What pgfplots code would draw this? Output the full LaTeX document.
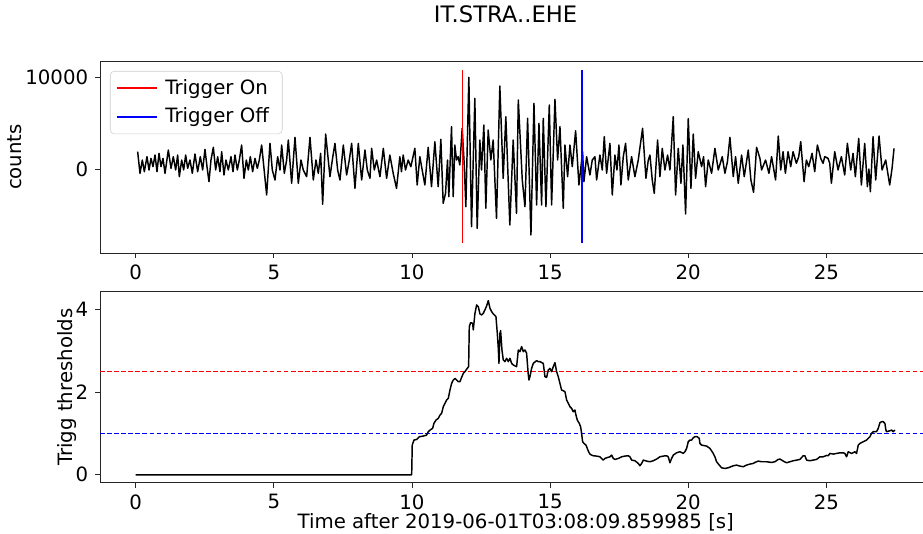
\documentclass[border=0pt]{standalone}
\usepackage{pgfplots}
\pgfplotsset{compat=1.18}
\usepackage{fontspec}
\setmainfont{DejaVu Sans}

\definecolor{trigred}{rgb}{1,0,0}
\definecolor{trigblue}{rgb}{0,0,1}

\pgfplotsset{
  seis/.style={
    scale only axis, width=623.7pt,
    xmin=-1.292, xmax=28.81,
    xtick={0,5,...,25},
    tick align=outside, tick pos=left,
    major tick length=3.75pt,
    axis line style={line width=0.6pt, black!85},
    every tick/.style={black!85, line width=0.6pt},
    /pgf/number format/assume math mode=true,
    /pgf/number format/1000 sep={},
    scaled y ticks=false,
    ylabel style={yshift=-7.5pt},
    clip=true,
  },
}

\begin{document}
\fontsize{14.8pt}{17.5pt}\selectfont
\begin{tikzpicture}
\useasboundingbox (0,0) rectangle (692.25pt,400.5pt);

\node[anchor=base west, font=\fontsize{17pt}{20pt}\selectfont] at (320.25pt,383.6pt) {IT.STRA..EHE};

% waveform with trigger times
\begin{axis}[seis, at={(75pt,210.75pt)}, anchor=south west, height=144pt,
    ymin=-9160, ymax=11780, ytick={0,10000},
    ylabel={counts},
    legend cell align=left,
    legend style={at={(0.012,0.948)}, anchor=north west, draw=black!20,
        rounded corners=3pt, fill=white, fill opacity=0.8, text opacity=1,
        inner xsep=4pt, inner ysep=4pt, row sep=4pt,
        nodes={inner xsep=6pt}},
    legend image code/.code={\draw[#1] (0pt,0pt) -- (30pt,0pt);},
]
\addplot[black, line width=1.1pt, line join=round, forget plot] table {
0.071 1890
0.156 -472
0.240 981
0.313 -290
0.409 1345
0.482 -109
0.554 1163
0.626 254
0.699 1527
0.771 -290
0.844 1709
0.916 254
0.988 1163
1.061 -472
1.181 2072
1.278 72
1.362 1345
1.447 -109
1.519 1527
1.579 -836
1.664 981
1.736 -109
1.809 1527
1.881 72
1.965 981
2.050 -472
2.146 1636
2.243 -290
2.339 1345
2.424 -109
2.508 2145
2.581 254
2.653 -1381
2.725 981
2.810 2363
2.894 -109
2.967 1345
3.051 -290
3.112 1890
3.196 -654
3.268 981
3.353 -109
3.449 1345
3.522 -290
3.594 1527
3.679 -109
3.751 981
3.835 2617
3.920 -1018
4.004 981
4.077 -109
4.149 1345
4.234 -290
4.318 1163
4.402 72
4.475 981
4.559 2617
4.740 -2835
4.861 2799
4.945 -109
5.042 -1200
5.138 1345
5.223 -109
5.283 2617
5.380 -472
5.464 981
5.524 3162
5.645 -1563
5.766 3453
5.886 -1563
5.983 981
6.067 -109
6.188 -836
6.309 3453
6.429 -1200
6.526 981
6.610 -472
6.695 1709
6.767 -3853
6.876 3817
7.032 -836
7.117 981
7.213 2799
7.310 -109
7.394 -1200
7.515 2617
7.636 -654
7.732 981
7.817 2799
7.937 -2108
8.058 2799
8.179 -1200
8.299 2072
8.384 -109
8.480 -1018
8.540 2254
8.637 -109
8.721 981
8.842 -836
8.963 2254
9.083 -1018
9.200 1527
9.321 -472
9.441 -2108
9.562 1345
9.620 -300
9.683 1527
9.767 -109
9.863 981
9.960 254
10.105 2254
10.189 -1745
10.286 1345
10.370 -109
10.467 -1745
10.587 2363
10.708 -1927
10.829 2981
10.949 -1927
11.046 3235
11.130 -3744
11.215 -2653
11.287 981
11.335 -3017
11.432 4616
11.492 -3017
11.552 2617
11.613 981
11.673 1345
11.733 436
11.818 4435
11.890 618
11.951 -4107
12.059 9997
12.156 -6289
12.276 7706
12.361 -6470
12.457 3162
12.518 -109
12.602 4798
12.674 -4289
12.759 4253
12.855 981
12.940 3162
13.060 -5380
13.181 9051
13.302 -1018
13.398 5707
13.543 -6107
13.664 3162
13.784 -4834
13.849 7524
13.993 -1200
14.090 -4107
14.186 5525
14.307 -7197
14.416 7161
14.512 -3926
14.597 4980
14.693 -3926
14.753 5525
14.850 -4107
14.971 6979
15.055 -3926
15.176 7597
15.272 981
15.357 4616
15.477 -4289
15.538 2617
15.634 -836
15.719 2617
15.803 254
15.924 4180
16.044 -1745
16.177 1890
16.225 -1381
16.322 1345
16.442 -654
16.527 981
16.623 1345
16.684 -1200
16.804 1527
16.889 -109
16.961 3526
17.046 -472
17.166 2799
17.251 -2835
17.347 1527
17.420 -109
17.492 2617
17.564 -1745
17.649 1345
17.733 2799
17.830 -1200
17.950 1345
18.071 -836
18.191 981
18.348 4435
18.469 -1018
18.554 981
18.614 1527
18.698 -1200
18.771 -2653
18.891 3162
18.976 -836
19.060 2254
19.157 -109
19.253 1527
19.338 -109
19.458 5707
19.543 -2835
19.639 2254
19.736 -1563
19.808 2617
19.905 -4907
20.001 5489
20.098 -2108
20.182 3817
20.267 -1018
20.363 1890
20.484 254
20.556 1345
20.629 -1927
20.725 981
20.846 -472
20.967 2254
21.087 -109
21.232 1345
21.328 -472
21.420 800
21.509 3453
21.630 -836
21.714 1345
21.811 -1563
21.932 1527
22.028 -836
22.173 2072
22.269 -1200
22.366 -2545
22.474 2363
22.595 1163
22.655 -109
22.800 981
22.921 -472
23.017 1345
23.162 -1200
23.259 3599
23.348 -109
23.433 1890
23.517 -472
23.614 1890
23.710 254
23.795 1890
23.915 618
24.000 1345
24.072 2981
24.193 -1381
24.277 981
24.362 254
24.482 1709
24.579 -290
24.675 2617
24.796 1163
24.880 618
24.941 1345
25.061 1163
25.122 618
25.182 -1563
25.303 1890
25.423 -109
25.544 1345
25.664 -654
25.761 2799
25.882 -109
25.966 1709
26.050 -836
26.171 3344
26.268 -1745
26.388 2799
26.485 -1927
26.540 0
26.593 -2472
26.690 3526
26.786 -1200
26.907 3599
27.016 -109
27.148 981
27.293 -1745
27.378 72
27.450 2254
};
\addplot[draw=trigred, line width=1.4pt] coordinates {(11.83,-8100) (11.83,10800)};
\addlegendentry{Trigger On}
\addplot[draw=trigblue, line width=1.4pt] coordinates {(16.14,-8100) (16.14,10800)};
\addlegendentry{Trigger Off}
\end{axis}

% characteristic function with thresholds
\begin{axis}[seis, at={(75pt,38.5pt)}, anchor=south west, height=143.25pt,
    ymin=-0.19, ymax=4.43, ytick={0,2,4},
    ylabel={Trigg thresholds},
    ylabel style={yshift=-3pt},
    xlabel={Time after 2019-06-01T03:08:09.859985 [s]},
    xlabel style={yshift=7pt},
]
\addplot[draw=trigred, line width=1.2pt, dash pattern=on 3.5pt off 1.8pt] table {
-1.29 2.5
28.81 2.5
};
\addplot[draw=trigblue, line width=1.2pt, dash pattern=on 3.5pt off 1.8pt] table {
-1.29 1.0
28.81 1.0
};
\addplot[black, line width=1.1pt, line join=round] table {
0 0
9.99 0
10.01 0.719
10.073 0.840
10.169 0.856
10.266 0.921
10.410 0.937
10.531 0.961
10.591 1.042
10.652 1.082
10.748 1.123
10.796 1.244
10.869 1.324
10.953 1.365
11.014 1.445
11.074 1.486
11.134 1.647
11.195 1.728
11.255 1.809
11.315 1.849
11.376 2.051
11.436 2.212
11.496 2.293
11.556 2.333
11.617 2.293
11.677 2.252
11.737 2.252
11.798 2.357
11.858 2.454
11.918 2.495
12.003 2.575
12.051 2.616
12.075 3.584
12.123 3.681
12.196 3.665
12.220 3.504
12.280 3.907
12.341 4.109
12.401 4.068
12.461 3.891
12.522 3.867
12.582 3.907
12.642 3.988
12.703 4.085
12.763 4.214
12.823 4.028
12.884 3.947
12.944 3.891
13.040 3.826
13.089 3.423
13.125 3.060
13.149 2.696
13.185 3.423
13.209 3.487
13.258 3.019
13.306 2.777
13.366 2.737
13.426 2.818
13.487 2.737
13.547 2.818
13.607 2.696
13.668 2.656
13.788 2.616
13.849 3.019
13.909 2.979
13.969 3.100
14.030 2.979
14.090 3.019
14.150 2.939
14.211 2.414
14.235 2.293
14.271 2.374
14.331 2.575
14.392 2.696
14.512 2.761
14.572 2.737
14.633 2.737
14.753 2.696
14.814 2.374
14.874 2.357
14.934 2.535
14.995 2.575
15.055 2.495
15.115 2.616
15.176 2.713
15.236 2.495
15.296 2.374
15.357 2.212
15.417 2.051
15.477 2.035
15.538 2.010
15.598 1.809
15.659 1.728
15.719 1.647
15.779 1.607
15.840 1.526
15.900 1.566
15.936 1.445
15.984 1.324
16.020 1.284
16.057 1.244
16.105 1.163
16.141 1.001
16.177 0.800
16.226 0.759
16.298 0.719
16.346 0.638
16.394 0.558
16.443 0.501
16.503 0.477
16.563 0.461
16.684 0.453
16.805 0.436
16.865 0.396
16.925 0.356
16.986 0.396
17.046 0.412
17.167 0.436
17.227 0.477
17.287 0.396
17.348 0.372
17.468 0.396
17.589 0.436
17.709 0.453
17.830 0.461
17.890 0.436
17.951 0.356
18.071 0.340
18.192 0.275
18.252 0.219
18.313 0.275
18.373 0.356
18.494 0.332
18.614 0.316
18.735 0.340
18.856 0.380
18.976 0.436
19.097 0.453
19.217 0.461
19.278 0.436
19.338 0.291
19.398 0.396
19.459 0.477
19.579 0.533
19.700 0.558
19.820 0.517
19.881 0.558
19.941 0.638
20.001 0.800
20.062 0.840
20.122 0.840
20.183 0.897
20.243 0.921
20.327 0.921
20.400 0.880
20.424 0.759
20.484 0.719
20.665 0.695
20.786 0.638
20.906 0.517
20.967 0.436
21.027 0.316
21.124 0.235
21.208 0.170
21.329 0.154
21.449 0.170
21.630 0.219
21.750 0.235
21.871 0.211
21.992 0.195
22.112 0.235
22.233 0.259
22.353 0.275
22.414 0.299
22.534 0.332
22.655 0.316
22.836 0.316
23.017 0.299
23.138 0.316
23.258 0.372
23.319 0.380
23.439 0.332
23.560 0.291
23.681 0.316
23.801 0.340
23.922 0.356
24.042 0.372
24.163 0.461
24.223 0.461
24.284 0.356
24.404 0.340
24.525 0.356
24.646 0.372
24.766 0.436
24.887 0.436
25.008 0.469
25.068 0.461
25.128 0.517
25.249 0.501
25.370 0.517
25.490 0.533
25.611 0.533
25.671 0.517
25.731 0.436
25.792 0.558
25.912 0.517
26.033 0.558
26.093 0.517
26.154 0.719
26.214 0.759
26.335 0.800
26.455 0.840
26.576 0.921
26.636 1.001
26.697 1.042
26.817 1.042
26.878 1.123
26.938 1.260
26.998 1.284
27.059 1.284
27.119 1.244
27.155 1.082
27.179 1.042
27.300 1.066
27.360 1.082
27.420 1.042
27.481 1.082
};
\end{axis}
\end{tikzpicture}
\end{document}
